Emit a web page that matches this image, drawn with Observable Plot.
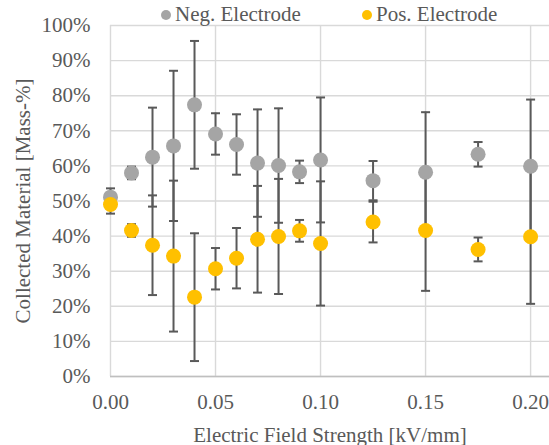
<!DOCTYPE html>
<html>
<head>
<meta charset="utf-8">
<script src="https://cdn.jsdelivr.net/npm/d3@7"></script>
<script src="https://cdn.jsdelivr.net/npm/@observablehq/plot@0.6"></script>
<style>
  body { margin: 0; background: #fff; }
  #wrap { position: relative; width: 549px; height: 445px; overflow: hidden; }
  #wrap svg text { font-family: "Liberation Serif", "Times New Roman", serif !important; font-variant: normal !important; }
  .leg { position: absolute; top: 2px; font: 21px "Liberation Serif", "Times New Roman", serif; color: #595959; line-height: 24px; white-space: nowrap; }
  .sw { position: absolute; width: 10px; height: 10px; border-radius: 50%; top: 10px; }
</style>
</head>
<body>
<div id="wrap"></div>
<script>
// ---- data (values in %) ----
const fieldStrength = [0, 0.01, 0.02, 0.03, 0.04, 0.05, 0.06, 0.07, 0.08, 0.09, 0.10, 0.125, 0.15, 0.175, 0.20];
const negMean = [51.1, 58.0, 62.5, 65.7, 77.4, 69.1, 66.1, 60.8, 60.1, 58.3, 61.7, 55.8, 58.2, 63.3, 59.9];
const negErr  = [2.5, 1.8, 14.1, 21.4, 18.2, 5.9, 8.6, 15.3, 16.3, 3.2, 17.8, 5.6, 17.1, 3.5, 19.0];
const posMean = [49.0, 41.6, 37.4, 34.3, 22.6, 30.7, 33.7, 39.1, 39.9, 41.5, 37.9, 44.0, 41.6, 36.2, 39.8];
const posErr  = [2.6, 1.8, 14.2, 21.5, 18.2, 5.9, 8.6, 15.2, 16.4, 3.1, 17.7, 5.8, 17.2, 3.4, 19.1];
const seriesNames = ["Neg. Electrode", "Pos. Electrode"];
const seriesColors = ["#A5A5A5", "#FFC000"];
const xTicks = [0, 0.05, 0.10, 0.15, 0.20];
const yTicks = [0, 10, 20, 30, 40, 50, 60, 70, 80, 90, 100];
const xLabel = "Electric Field Strength [kV/mm]";
const yLabel = "Collected Material [Mass-%]";

const rows = [
  ...fieldStrength.map((x, i) => ({x, y: negMean[i], e: negErr[i], s: seriesNames[0]})),
  ...fieldStrength.map((x, i) => ({x, y: posMean[i], e: posErr[i], s: seriesNames[1]}))
];

const cap = {
  draw(ctx, size) {
    const w = Math.sqrt(size / Math.PI);
    ctx.moveTo(-w, 0);
    ctx.lineTo(w, 0);
  }
};

const serif = '"Liberation Serif", "Times New Roman", serif';
const barColor = "#595959";
const gridColor = "#D9D9D9";

const chart = Plot.plot({
  width: 549,
  height: 445,
  marginLeft: 110,
  marginRight: 0,
  marginTop: 25,
  marginBottom: 69,
  style: {fontFamily: serif, fontSize: "21px", color: "#595959", background: "#fff"},
  x: {domain: [0, 0.209]},
  y: {domain: [0, 100]},
  color: {domain: seriesNames, range: seriesColors},
  marks: [
    Plot.gridY(yTicks, {stroke: gridColor, strokeOpacity: 1, strokeWidth: 1.4}),
    Plot.gridX(xTicks, {stroke: gridColor, strokeOpacity: 1, strokeWidth: 1.4}),
    Plot.ruleY([0], {stroke: "#BFBFBF", strokeWidth: 1.4}),
    Plot.axisY(yTicks, {
      tickSize: 0, tickPadding: 20, tickFormat: d => d + "%",
      fontFamily: serif, fontSize: 21, fontVariant: "normal",
      label: yLabel, labelAnchor: "center", labelArrow: "none", labelOffset: 95
    }),
    Plot.axisX(xTicks, {
      tickSize: 0, tickPadding: 18, tickFormat: d3.format(".2f"),
      fontFamily: serif, fontSize: 21, fontVariant: "normal",
      label: xLabel, labelAnchor: "center", labelArrow: "none", labelOffset: 65
    }),
    Plot.ruleX(rows, {x: "x", y1: d => d.y - d.e, y2: d => d.y + d.e, stroke: barColor, strokeWidth: 2}),
    Plot.dot(rows, {x: "x", y: d => d.y + d.e, symbol: cap, r: 4.5, fill: "none", stroke: barColor, strokeWidth: 2}),
    Plot.dot(rows, {x: "x", y: d => d.y - d.e, symbol: cap, r: 4.5, fill: "none", stroke: barColor, strokeWidth: 2}),
    Plot.dot(rows, {x: "x", y: "y", fill: "s", r: 7.5, stroke: null})
  ]
});

const wrap = document.getElementById("wrap");
wrap.appendChild(chart);

// legend (HTML, overlaid at the top)
const legendPos = [{sw: 161, tx: 175}, {sw: 362, tx: 376}];
seriesNames.forEach((name, i) => {
  const sw = document.createElement("div");
  sw.className = "sw";
  sw.style.left = legendPos[i].sw + "px";
  sw.style.background = seriesColors[i];
  wrap.appendChild(sw);
  const t = document.createElement("div");
  t.className = "leg";
  t.style.left = legendPos[i].tx + "px";
  t.textContent = name;
  wrap.appendChild(t);
});
</script>
</body>
</html>
